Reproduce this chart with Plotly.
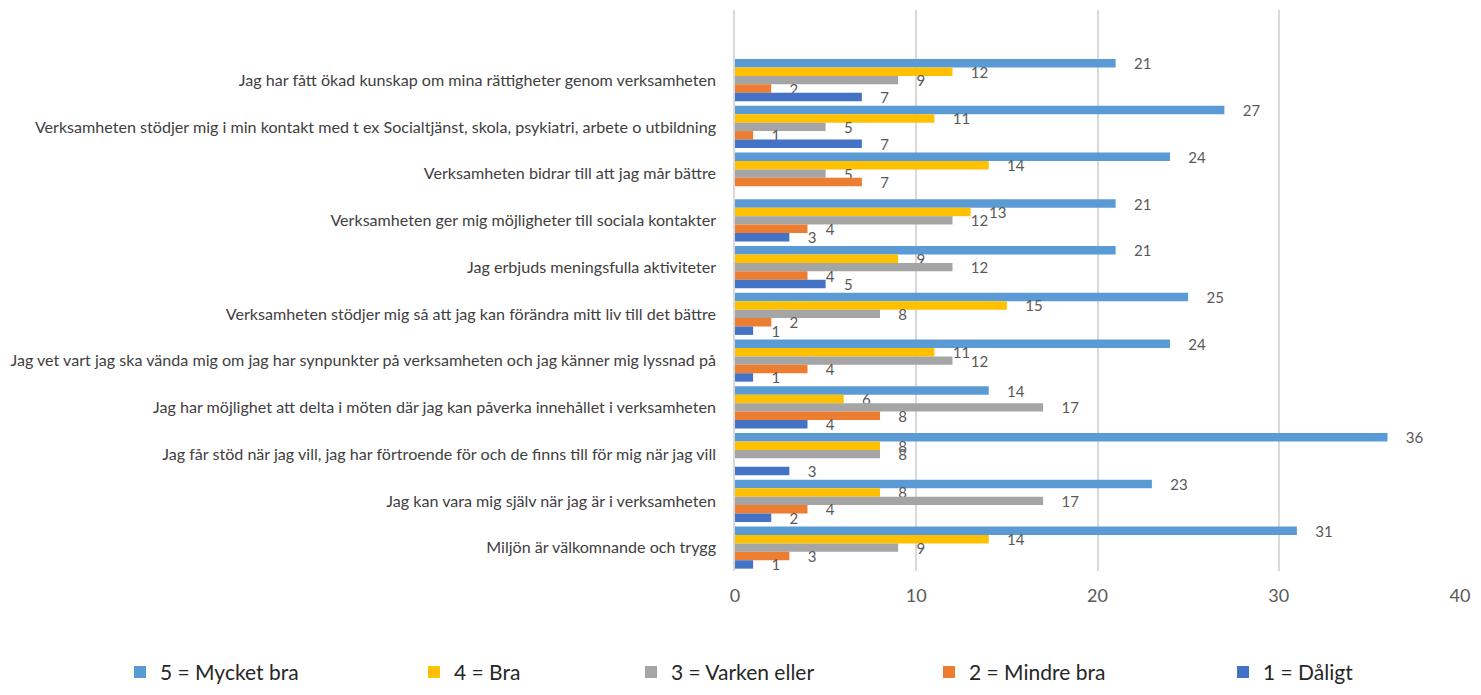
import plotly.graph_objects as go

# categories, top to bottom as in the chart
categories = [
    "Jag har fått ökad kunskap om mina rättigheter genom verksamheten",
    "Verksamheten stödjer mig i min kontakt med t ex Socialtjänst, skola, psykiatri, arbete o utbildning",
    "Verksamheten bidrar till att jag mår bättre",
    "Verksamheten ger mig möjligheter till sociala kontakter",
    "Jag erbjuds meningsfulla aktiviteter",
    "Verksamheten stödjer mig så att jag kan förändra mitt liv till det bättre",
    "Jag vet vart jag ska vända mig om jag har synpunkter på verksamheten och jag känner mig lyssnad på",
    "Jag har möjlighet att delta i möten där jag kan påverka innehållet i verksamheten",
    "Jag får stöd när jag vill, jag har förtroende för och de finns till för mig när jag vill",
    "Jag kan vara mig själv när jag är i verksamheten",
    "Miljön är välkomnande och trygg",
]

mycket_bra = [21, 27, 24, 21, 21, 25, 24, 14, 36, 23, 31]
bra = [12, 11, 14, 13, 9, 15, 11, 6, 8, 8, 14]
varken_eller = [9, 5, 5, 12, 12, 8, 12, 17, 8, 17, 9]
mindre_bra = [2, 1, 7, 4, 4, 2, 4, 8, None, 4, 3]
daligt = [7, 7, None, 3, 5, 1, 1, 4, 3, 2, 1]

series = [
    ("5 = Mycket bra", mycket_bra, "#5B9BD5"),
    ("4 = Bra", bra, "#FFC000"),
    ("3 = Varken eller", varken_eller, "#A5A5A5"),
    ("2 = Mindre bra", mindre_bra, "#ED7D31"),
    ("1 = Dåligt", daligt, "#4472C4"),
]

# page has an 8px body margin, so the figure is a bit smaller than the window
W, H = 1473, 687
L, R, T, B = 727, 21, 2, 120
plot_w = W - L - R
plot_h = H - T - B

# one legend per entry, spread out like the original
legend_left_px = [112, 406, 623, 921, 1215]
legend_mid_y = 669

fig = go.Figure()
for i, (name, vals, color) in enumerate(series):
    leg = "legend" if i == 0 else "legend%d" % (i + 1)
    fig.add_trace(go.Bar(
        y=categories, x=vals, name=name, orientation="h",
        marker=dict(color=color, line=dict(width=0)),
        text=[("\u00a0\u00a0\u00a0\u00a0" + str(v)) if v is not None else "" for v in vals],
        textposition="outside", cliponaxis=False, constraintext="none",
        textfont=dict(size=15, color="#595959"),
        legend=leg, showlegend=True,
    ))

legends = {}
for i, px in enumerate(legend_left_px):
    key = "legend" if i == 0 else "legend%d" % (i + 1)
    legends[key] = dict(
        x=(px - L) / plot_w, xanchor="left",
        y=(T + plot_h - legend_mid_y) / plot_h, yanchor="middle",
        orientation="h", itemwidth=30, bgcolor="rgba(0,0,0,0)",
        font=dict(size=21, color="#262626"),
    )

fig.update_layout(
    width=W, height=H,
    barmode="group", bargap=0.1, bargroupgap=0,
    plot_bgcolor="white", paper_bgcolor="white",
    font=dict(family="Lato, Calibri, sans-serif", color="#404040"),
    margin=dict(l=L, r=R, t=T, b=B),
    xaxis=dict(
        range=[0, 40], dtick=10, showgrid=True, gridcolor="#D9D9D9", gridwidth=1.5,
        zeroline=False, showline=False, ticklabelstandoff=12, automargin=False,
        tickfont=dict(size=18, color="#595959"),
    ),
    yaxis=dict(
        range=[10.5, -1.5], showgrid=False, zeroline=False, automargin=False,
        showline=True, linecolor="#D9D9D9", linewidth=1.5,
        tickfont=dict(size=16.1, color="#404040"), ticklabelstandoff=14,
    ),
    **legends,
)

fig.write_html("out.html")
